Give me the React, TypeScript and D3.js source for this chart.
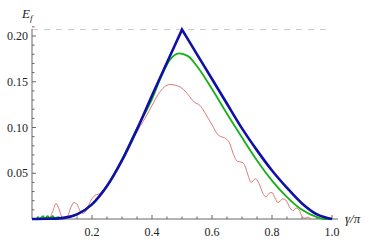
import React from "react";
import * as d3 from "d3";

// gamma/pi, E_f
const blueLeft: [number, number][] = [
  [0, 0], [0.05, 0.0002], [0.1, 0.001], [0.15, 0.005], [0.2, 0.016], [0.25, 0.036],
  [0.3, 0.064], [0.35, 0.098], [0.4, 0.135], [0.45, 0.171], [0.5, 0.207],
];
const blueRight: [number, number][] = [
  [0.5, 0.207], [0.55, 0.18], [0.6, 0.153], [0.65, 0.126], [0.7, 0.099], [0.75, 0.075],
  [0.8, 0.053], [0.85, 0.034], [0.9, 0.017], [0.95, 0.005], [1.0, 0],
];

const greenData: [number, number][] = [
  [0, 0], [0.015, 0], [0.02, 0.002], [0.025, 0], [0.037, 0.003], [0.042, 0.0005],
  [0.053, 0.003], [0.058, 0.0005], [0.07, 0.003], [0.075, 0.0008], [0.087, 0.002],
  [0.095, 0.001], [0.12, 0.002], [0.15, 0.005], [0.2, 0.016], [0.25, 0.036],
  [0.3, 0.065], [0.35, 0.099], [0.4, 0.131], [0.43, 0.155], [0.46, 0.174],
  [0.49, 0.181], [0.52, 0.178], [0.55, 0.167], [0.6, 0.142], [0.65, 0.115],
  [0.7, 0.089], [0.75, 0.064], [0.8, 0.042], [0.85, 0.024], [0.9, 0.01],
  [0.95, 0.002], [0.975, 0], [1.0, 0],
];

const redData: [number, number][] = [
  [0, 0], [0.03, 0], [0.05, 0.001], [0.06, 0.002], [0.07, 0.009], [0.08, 0.017],
  [0.09, 0.011], [0.1, 0.002], [0.11, 0], [0.12, 0.004], [0.13, 0.013], [0.14, 0.018],
  [0.15, 0.016], [0.16, 0.009], [0.17, 0.006], [0.18, 0.009], [0.19, 0.016],
  [0.2, 0.022], [0.21, 0.026], [0.22, 0.027], [0.23, 0.029], [0.25, 0.036],
  [0.28, 0.052], [0.3, 0.063], [0.33, 0.083], [0.36, 0.101], [0.38, 0.112], [0.4, 0.124],
  [0.42, 0.136], [0.44, 0.144], [0.46, 0.147], [0.48, 0.146], [0.5, 0.143],
  [0.52, 0.136], [0.54, 0.128], [0.56, 0.124], [0.58, 0.114], [0.6, 0.103],
  [0.62, 0.092], [0.63, 0.09], [0.645, 0.088], [0.66, 0.082], [0.67, 0.072],
  [0.685, 0.063], [0.7, 0.062], [0.71, 0.058], [0.72, 0.048], [0.73, 0.04],
  [0.745, 0.044], [0.755, 0.04], [0.77, 0.028], [0.78, 0.024], [0.79, 0.028],
  [0.8, 0.029], [0.81, 0.023], [0.82, 0.018], [0.835, 0.022], [0.845, 0.021],
  [0.86, 0.012], [0.87, 0.009], [0.88, 0.012], [0.89, 0.01], [0.9, 0.003],
  [0.91, 0.001], [0.92, 0.002], [0.93, 0],
];

const maxLine = 0.207;
const xTicks = [0.2, 0.4, 0.6, 0.8, 1.0];
const yTicks = [0.05, 0.1, 0.15, 0.2];

const W = 374;
const H = 241;
const font = "'Liberation Serif', 'DejaVu Serif', serif";

export default function App() {
  const x = d3.scaleLinear().domain([0, 1]).range([32, 332]);
  const y = d3.scaleLinear().domain([0, 0.2]).range([219, 36]);

  const line = d3.line<[number, number]>()
    .x(d => x(d[0]))
    .y(d => y(d[1]))
    .curve(d3.curveMonotoneX);

  // the blue curve has a sharp cusp at 0.5: two monotone pieces joined in one path
  const bluePath = (line(blueLeft) ?? "") + (line(blueRight) ?? "").replace(/^M/, "L");

  const xMinor = d3.range(0.05, 1.051, 0.05).filter(v => Math.abs(v * 5 - Math.round(v * 5)) > 1e-6);
  const yMinor = d3.range(0.01, 0.2151, 0.01).filter(v => Math.abs(v * 20 - Math.round(v * 20)) > 1e-6);
  const axisColor = "#666";

  return (
    <svg width={W} height={H} style={{ position: "absolute", left: 0, top: 0 }} fontFamily={font}>
      <rect width={W} height={H} fill="#fff" />
      {/* dashed max line */}
      <line x1={x(0)} x2={x(1)} y1={y(maxLine)} y2={y(maxLine)}
        stroke="#c8c8c8" strokeWidth={1} strokeDasharray="6,6" />

      {/* axes */}
      <line x1={x(0)} x2={338} y1={y(0)} y2={y(0)} stroke={axisColor} strokeWidth={1} />
      <line x1={x(0)} x2={x(0)} y1={y(0)} y2={29} stroke={axisColor} strokeWidth={1} />

      {xTicks.map(t => (
        <g key={"xt" + t}>
          <line x1={x(t)} x2={x(t)} y1={y(0)} y2={y(0) - 4} stroke={axisColor} />
          <text x={x(t)} y={236} textAnchor="middle" fontFamily={font} fontSize={12} fill="#222">
            {t.toFixed(1)}
          </text>
        </g>
      ))}
      {xMinor.map(t => (
        <line key={"xm" + t} x1={x(t)} x2={x(t)} y1={y(0)} y2={y(0) - 2.5} stroke={axisColor} />
      ))}
      {yTicks.map(t => (
        <g key={"yt" + t}>
          <line x1={x(0)} x2={x(0) + 4} y1={y(t)} y2={y(t)} stroke={axisColor} />
          <text x={28} y={y(t) + 4} textAnchor="end" fontFamily={font} fontSize={12} fill="#222">
            {t.toFixed(2)}
          </text>
        </g>
      ))}
      {yMinor.map(t => (
        <line key={"ym" + t} x1={x(0)} x2={x(0) + 2.5} y1={y(t)} y2={y(t)} stroke={axisColor} />
      ))}

      {/* curves */}
      <path d={line(redData) ?? ""} fill="none" stroke="#d0595b" strokeWidth={0.8} />
      <path d={line(greenData) ?? ""} fill="none" stroke="#13b213" strokeWidth={1.8} />
      <path d={bluePath} fill="none" stroke="#1010a8" strokeWidth={2.6} strokeLinejoin="miter" />

      {/* axis labels */}
      <text x={22} y={18} fontFamily={font} fontSize={13} fontStyle="italic" fill="#222">
        E<tspan fontSize={9} dy={3}>f</tspan>
      </text>
      <text x={345} y={223} fontFamily={font} fontSize={13} fontStyle="italic" fill="#222">
        γ/π
      </text>
    </svg>
  );
}
